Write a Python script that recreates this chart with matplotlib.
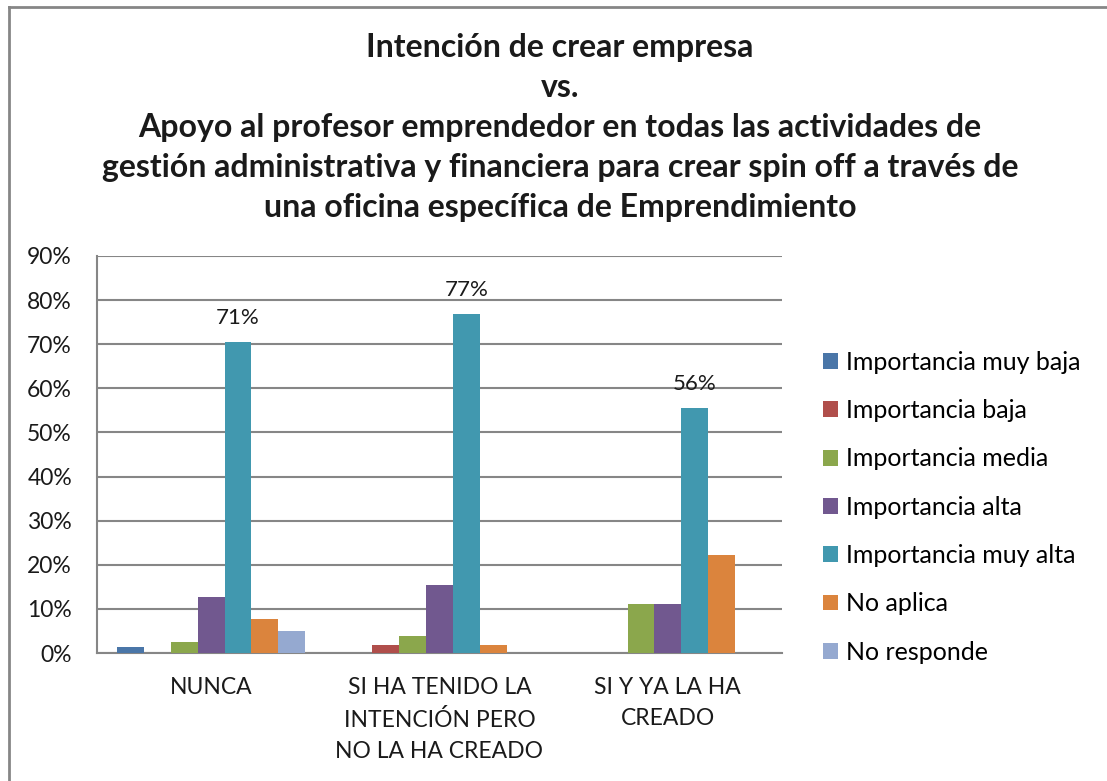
import matplotlib
matplotlib.use("Agg")
import matplotlib.pyplot as plt
import numpy as np
from matplotlib.lines import Line2D
from matplotlib.ticker import FuncFormatter

categories = ["NUNCA", "SI HA TENIDO LA\nINTENCIÓN PERO\nNO LA HA CREADO", "SI Y YA LA HA\nCREADO"]
series_names = ["Importancia muy baja", "Importancia baja", "Importancia media",
                "Importancia alta", "Importancia muy alta", "No aplica", "No responde"]
muy_baja = [1.3, 0.0, 0.0]
baja = [0.0, 1.9, 0.0]
media = [2.6, 3.8, 11.1]
alta = [12.8, 15.4, 11.1]
muy_alta = [70.5, 76.9, 55.6]
no_aplica = [7.7, 1.9, 22.2]
no_responde = [5.1, 0.0, 0.0]
series_values = [muy_baja, baja, media, alta, muy_alta, no_aplica, no_responde]
colors = ["#4A76A8", "#B04E4B", "#8BA74C", "#71588F", "#4198AF", "#DB843D", "#95A9D0"]
labeled_series = 4
yticks = [0, 10, 20, 30, 40, 50, 60, 70, 80, 90]

plt.rcParams['font.family'] = ['Lato', 'DejaVu Sans']

W, H = 1107, 781
fig = plt.figure(figsize=(W / 100, H / 100), dpi=100)
ax = fig.add_axes([97 / W, (H - 653) / H, (782 - 97) / W, (653 - 256) / H])

n = len(series_names)
w = 1 / (n + 1.5)
x = np.arange(len(categories))
handles = []
for i, (name, vals, c) in enumerate(zip(series_names, series_values, colors)):
    pos = x + (i - (n - 1) / 2) * w
    b = ax.bar(pos, vals, width=w, color=c, label=name, zorder=3)
    handles.append(b)
    if i == labeled_series:
        for xp, v in zip(pos, vals):
            ax.annotate(f"{int(v + 0.5)}%", (xp, v), xytext=(0, 10), textcoords="offset points",
                        ha="center", va="bottom", fontsize=16, color="#1a1a1a")

ax.set_xlim(-0.5, len(categories) - 0.5)
ax.set_ylim(0, 90)
ax.set_yticks(yticks)
ax.yaxis.set_major_formatter(FuncFormatter(lambda v, p: f"{v:.0f}%"))
ax.set_xticks(x)
ax.set_xticklabels(categories, linespacing=1.62)
ax.tick_params(axis="both", length=0, labelsize=16.5, colors="#1a1a1a")
ax.tick_params(axis="y", pad=18)
ax.tick_params(axis="x", pad=17)
ax.grid(axis="y", color="#868686", linewidth=1.5, zorder=0)
for s in ["top", "right"]:
    ax.spines[s].set_visible(False)
for s in ["left", "bottom"]:
    ax.spines[s].set_color("#868686")
    ax.spines[s].set_linewidth(1.5)

fig.legend(handles=handles, labels=series_names, loc="upper left",
           bbox_to_anchor=(823 / W, 1 - 351 / H), frameon=False, fontsize=18,
           handlelength=0.6, handleheight=0.6, handletextpad=0.3,
           labelspacing=1.01, borderaxespad=0, borderpad=0)

title = ("Intención de crear empresa\nvs.\nApoyo al profesor emprendedor en todas las actividades de\n"
         "gestión administrativa y financiera para crear spin off a través de\n"
         "una oficina específica de Emprendimiento")
fig.text(560 / W, 1 - 33 / H, title, ha="center", va="top", fontsize=23,
         fontweight="bold", linespacing=1.46, color="#1a1a1a")

fig.add_artist(Line2D([9 / W, 1], [1 - 7 / H, 1 - 7 / H], color="#868686", lw=2))
fig.add_artist(Line2D([9 / W, 9 / W], [1 - 7 / H, 0], color="#868686", lw=2))

fig.savefig("out.png", dpi=100)
